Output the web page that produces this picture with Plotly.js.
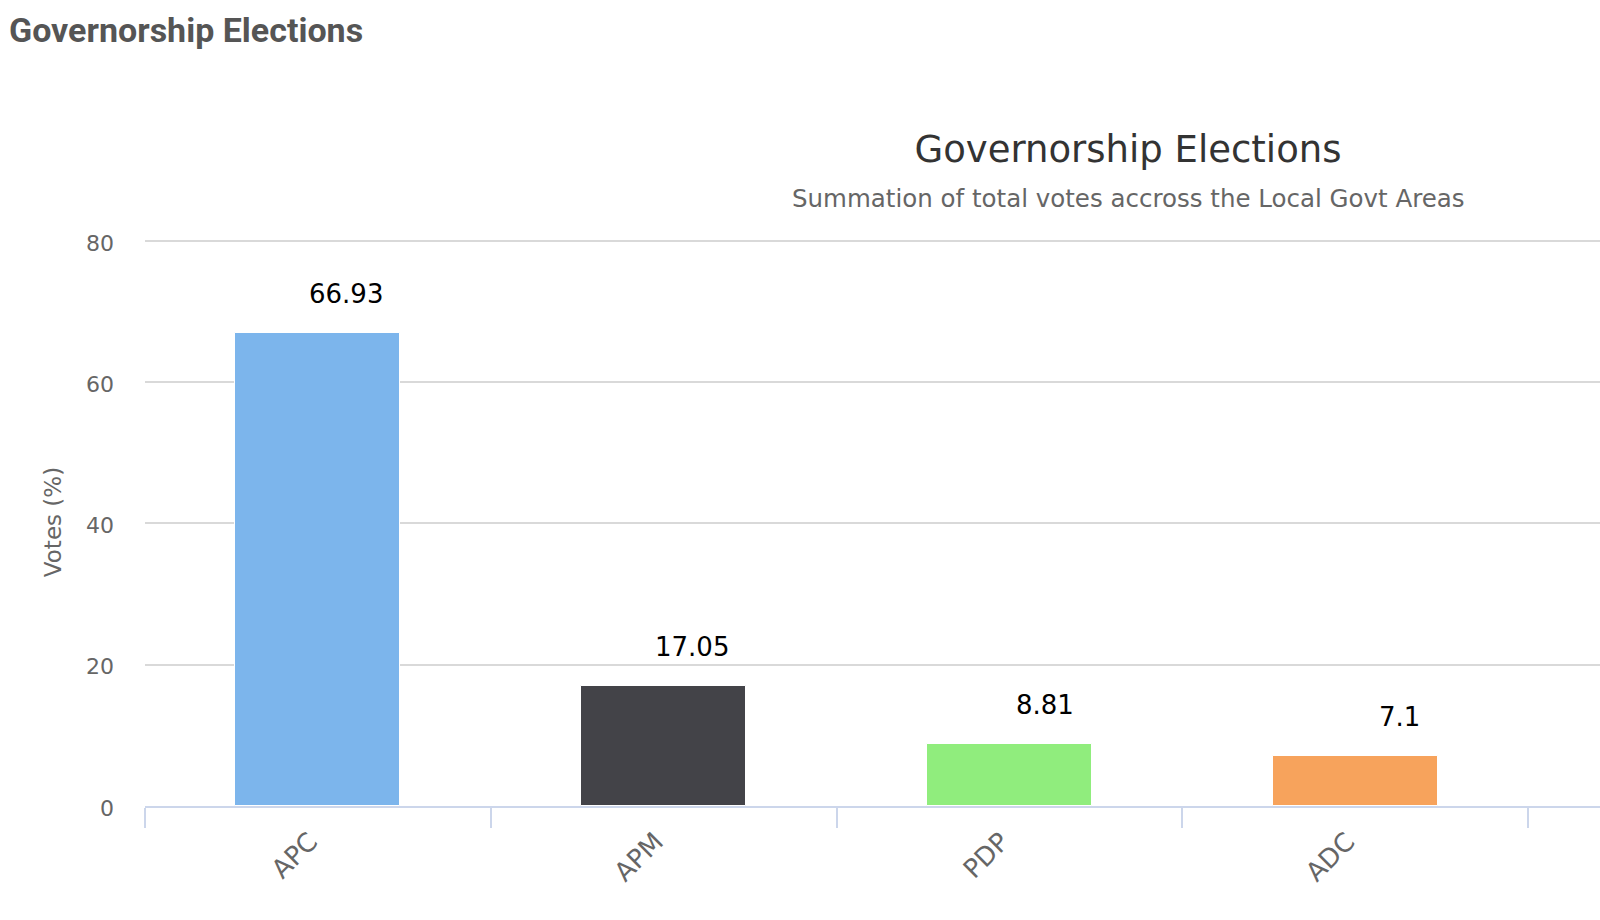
<!DOCTYPE html>
<html>
<head>
<meta charset="utf-8">
<script src="https://cdn.plot.ly/plotly-3.0.1.min.js"></script>
<style>
  html, body { margin: 0; padding: 0; background: #fff; }
  #plot { width: 1600px; height: 920px; }
</style>
</head>
<body>
<div id="plot"></div>
<script>
// data
const parties = ['APC', 'APM', 'PDP', 'ADC'];
const votes = [66.93, 17.05, 8.81, 7.1];
const barColors = ['#7cb5ec', '#434348', '#90ed7d', '#f7a35c'];
const yTicks = [0, 20, 40, 60, 80];

const plot = document.getElementById('plot');

// plot area in page pixels
const W = 1600, H = 920;
const plotLeft = 145, plotTop = 238, plotBottom = 806;
const plotW = W - plotLeft, plotH = plotBottom - plotTop;
const px = (x) => (x - plotLeft) / plotW;
const py = (y) => (plotBottom - y) / plotH;

const barWidth = 0.477;

const trace = {
  type: 'bar',
  x: parties,
  y: votes,
  width: barWidth,
  marker: { color: barColors, line: { color: '#ffffff', width: 1 } },
  hoverinfo: 'x+y'
};

// value labels sit right-aligned just inside the bar's right edge
const labels = parties.map((p, i) => ({
  x: p,
  y: votes[i],
  xref: 'x',
  yref: 'y',
  text: String(votes[i]),
  showarrow: false,
  xanchor: 'right',
  yanchor: 'bottom',
  xshift: 67,
  yshift: 22,
  font: { family: 'DejaVu Sans', size: 26, color: '#000000' }
}));

const layout = {
  width: W,
  height: H,
  margin: { l: plotLeft, r: 0, t: plotTop, b: H - plotBottom },
  paper_bgcolor: '#ffffff',
  plot_bgcolor: '#ffffff',
  font: { family: 'DejaVu Sans', color: '#666666' },
  showlegend: false,
  bargap: 0,
  title: {
    text: 'Governorship Elections',
    xref: 'container',
    yref: 'container',
    x: 1128 / W,
    xanchor: 'center',
    y: 1 - 149 / H,
    yanchor: 'middle',
    font: { family: 'DejaVu Sans', size: 37, color: '#333333' }
  },
  xaxis: {
    type: 'category',
    range: [-0.5, -0.5 + plotW / 345.75],
    showline: true,
    linecolor: '#ccd6eb',
    linewidth: 2,
    ticks: 'outside',
    tickson: 'boundaries',
    ticklen: 20,
    tickwidth: 2,
    tickcolor: '#ccd6eb',
    tickangle: -45,
    ticklabelshift: -8,
    ticklabelstandoff: 8,
    tickfont: { family: 'DejaVu Sans', size: 26, color: '#666666' },
    showgrid: false,
    zeroline: false,
    fixedrange: true
  },
  yaxis: {
    range: [0, 80.4],
    tickvals: yTicks,
    ticks: '',
    ticklabelstandoff: 30,
    ticklabelshift: 2,
    tickfont: { family: 'DejaVu Sans', size: 22, color: '#666666' },
    showgrid: true,
    gridcolor: '#d9d9d9',
    gridwidth: 2,
    zeroline: false,
    showline: false,
    title: {
      text: 'Votes (%)',
      standoff: 17,
      font: { family: 'DejaVu Sans', size: 23, color: '#666666' }
    },
    fixedrange: true
  },
  annotations: [
    {
      text: 'Governorship Elections',
      xref: 'paper', yref: 'paper',
      x: px(7), y: py(30),
      xanchor: 'left', yanchor: 'middle',
      showarrow: false,
      font: { family: 'Roboto', size: 34, weight: 700, color: '#555555' }
    },
    {
      text: 'Summation of total votes accross the Local Govt Areas',
      xref: 'paper', yref: 'paper',
      x: px(1128), y: py(199),
      xanchor: 'center', yanchor: 'middle',
      showarrow: false,
      font: { family: 'DejaVu Sans', size: 24.5, color: '#666666' }
    }
  ].concat(labels)
};

Plotly.newPlot(plot, [trace], layout, { displayModeBar: false });
</script>
</body>
</html>
